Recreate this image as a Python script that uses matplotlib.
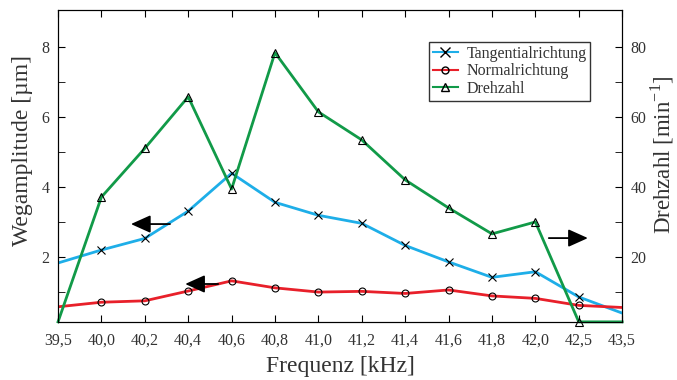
import numpy as np
import matplotlib
matplotlib.use("Agg")
import matplotlib.pyplot as plt
from matplotlib.lines import Line2D

plt.rcParams['font.family'] = ['Liberation Serif', 'DejaVu Serif']
plt.rcParams['mathtext.fontset'] = 'custom'
plt.rcParams['mathtext.rm'] = 'Liberation Serif'

# frequency steps (equally spaced on the axis)
freq_labels = ['39,5', '40,0', '40,2', '40,4', '40,6', '40,8', '41,0',
               '41,2', '41,4', '41,6', '41,8', '42,0', '42,5', '43,5']
tangential = [1.83, 2.20, 2.53, 3.31, 4.39, 3.56, 3.19, 2.96, 2.33, 1.86, 1.42, 1.58, 0.86, 0.40]
normal = [0.58, 0.71, 0.75, 1.03, 1.32, 1.12, 1.00, 1.02, 0.96, 1.06, 0.89, 0.82, 0.62, 0.56]
drehzahl = [1.5, 37.1, 51.0, 65.7, 39.4, 78.3, 61.4, 53.4, 42.0, 34.0, 26.6, 30.0, 1.5, 1.5]

c_blue = '#1eaee8'
c_red = '#e8202a'
c_green = '#119a48'

x = np.arange(len(freq_labels))
mk = list(range(1, len(freq_labels) - 1))

fig = plt.figure(figsize=(6.77, 3.8), dpi=100)
ax = fig.add_axes([0.0857, 0.153, 0.8333, 0.821])
ax2 = ax.twinx()

ax.plot(x, tangential, color=c_blue, lw=2, marker='x', ms=6, mec='k', mew=0.8,
        markevery=mk, zorder=3)
ax.plot(x, normal, color=c_red, lw=2, marker='o', ms=5, mec='k', mfc='none', mew=0.8,
        markevery=mk, zorder=3)
ax2.plot(x, drehzahl, color=c_green, lw=2, marker='^', ms=6, mec='k', mfc='none', mew=0.8,
         markevery=mk, clip_on=False)

ax.set_xlim(0, len(freq_labels) - 1)
ax.set_ylim(0.15, 9.05)
ax2.set_ylim(1.5, 90.5)

ax.set_xticks(x)
ax.set_xticklabels(freq_labels)
ax.set_yticks([2, 4, 6, 8])
ax.set_yticks([1, 3, 5, 7], minor=True)
ax2.set_yticks([20, 40, 60, 80])
ax2.set_yticks([10, 30, 50, 70], minor=True)

for a in (ax, ax2):
    a.tick_params(which='both', direction='in', labelsize=11.5, color='k',
                  labelcolor='#333333', pad=6)
    a.tick_params(which='major', length=5)
    a.tick_params(which='minor', length=5)
ax.tick_params(axis='x', top=True, pad=8)

ax.set_xlabel('Frequenz [kHz]', fontsize=17, color='#333333')
ax.set_ylabel('Wegamplitude [µm]', fontsize=17, color='#333333')
ax2.set_ylabel('Drehzahl [min$^{\\mathregular{-1}}$]', fontsize=16.5, color='#333333')
ax.xaxis.set_label_coords(0.5, -0.108)
ax.yaxis.set_label_coords(-0.045, 0.548)
ax2.yaxis.set_label_coords(1.046, 0.535)

# arrows showing which axis belongs to which curve
arrow = dict(arrowstyle='-|>,head_length=1.0,head_width=0.45', color='k', lw=1.3,
             mutation_scale=12, shrinkA=0, shrinkB=0)
ax.annotate('', xy=(1.68, 2.94), xytext=(2.58, 2.94), arrowprops=arrow, zorder=5)
ax.annotate('', xy=(2.93, 1.23), xytext=(3.69, 1.23), arrowprops=arrow, zorder=5)
ax.annotate('', xy=(12.21, 2.54), xytext=(11.31, 2.54), arrowprops=arrow, zorder=5)

handles = [
    Line2D([], [], color=c_blue, lw=1.5, marker='x', ms=7, mec='k', mew=1),
    Line2D([], [], color=c_red, lw=1.5, marker='o', ms=5, mec='k', mfc='none', mew=1),
    Line2D([], [], color=c_green, lw=1.5, marker='^', ms=6, mec='k', mfc='none', mew=1),
]
leg = ax2.legend(handles, ['Tangentialrichtung', 'Normalrichtung', 'Drehzahl'],
                 loc='upper left', bbox_to_anchor=(0.657, 0.898), fontsize=11.5,
                 frameon=True, fancybox=False, handlelength=1.6, handletextpad=0.5,
                 borderpad=0.25, labelspacing=0.1, borderaxespad=0)
leg.get_frame().set_edgecolor('k')
leg.get_frame().set_linewidth(1)
for t in leg.get_texts():
    t.set_color('#333333')

fig.savefig('out.png', dpi=100)
